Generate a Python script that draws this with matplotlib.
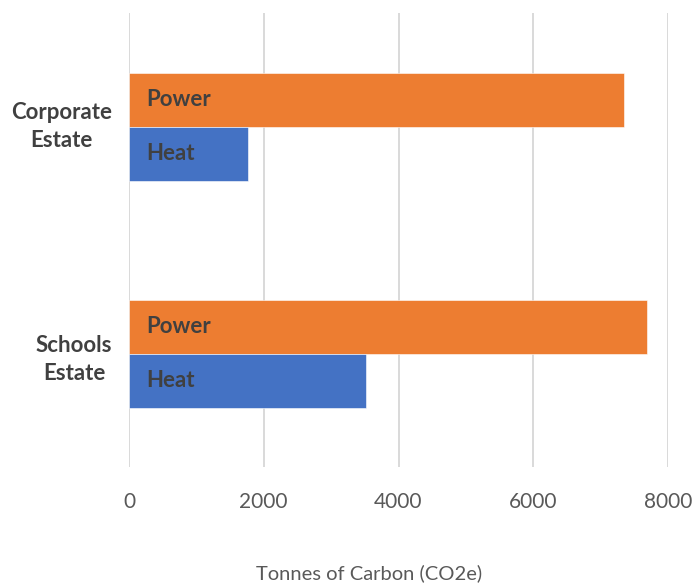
import matplotlib
matplotlib.use("Agg")
import matplotlib.pyplot as plt
import matplotlib.transforms as mtransforms
import numpy as np

plt.rcParams['font.family'] = ['Lato', 'DejaVu Sans']

categories = ["Schools\nEstate", "Corporate\nEstate"]
series_names = ["Power", "Heat"]
power = [7684, 7347]
heat = [3513, 1771]
x_ticks = [0, 2000, 4000, 6000, 8000]
x_label = "Tonnes of Carbon (CO2e)"

orange = "#ED7D31"
blue = "#4472C4"
dark = "#404040"
gray = "#595959"

fig = plt.figure(figsize=(6.96, 5.84), dpi=100)
W, H = 696, 584
left, right, top, bottom = 129, 668, 13.3, 467
ax = fig.add_axes([left / W, 1 - bottom / H, (right - left) / W, (bottom - top) / H])

y = np.arange(len(categories))
h = 0.238
bp = ax.barh(y + h / 2, power, height=h, color=orange, edgecolor="white", linewidth=0.4, zorder=3)
bh = ax.barh(y - h / 2, heat, height=h, color=blue, edgecolor="white", linewidth=0.4, zorder=3)

for bars, name in ((bp, series_names[0]), (bh, series_names[1])):
    for rect in bars:
        cy = rect.get_y() + rect.get_height() / 2
        ax.annotate(name, xy=(0, cy), xytext=(17, 0), textcoords="offset pixels",
                    ha="left", va="center", fontsize=16, fontweight="bold", color=dark, zorder=4)

ax.set_xlim(0, 8000)
ax.set_ylim(-0.5, 1.5)
ax.set_xticks(x_ticks)
ax.set_xticklabels([str(t) for t in x_ticks], fontsize=15, color=gray)
ax.set_yticks(y)
ax.set_yticklabels(categories, fontsize=16, fontweight="bold", color=dark, multialignment="center",
                   linespacing=1.45)
ax.tick_params(axis="both", length=0)
ax.tick_params(axis="x", pad=18)
ax.tick_params(axis="y", pad=12)
for s in ax.spines.values():
    s.set_visible(False)
ax.grid(axis="x", color="#D9D9D9", linewidth=1.4, zorder=0)
ax.set_axisbelow(True)

# Excel places the upper category label slightly higher
lab = ax.get_yticklabels()[1]
lab.set_transform(lab.get_transform() + mtransforms.ScaledTranslation(0, 6 / 100, fig.dpi_scale_trans))

fig.text(369 / W, 1 - 573 / H, x_label, ha="center", va="center", fontsize=14.5, color=gray)

fig.savefig("out.png", dpi=100, facecolor="white")
